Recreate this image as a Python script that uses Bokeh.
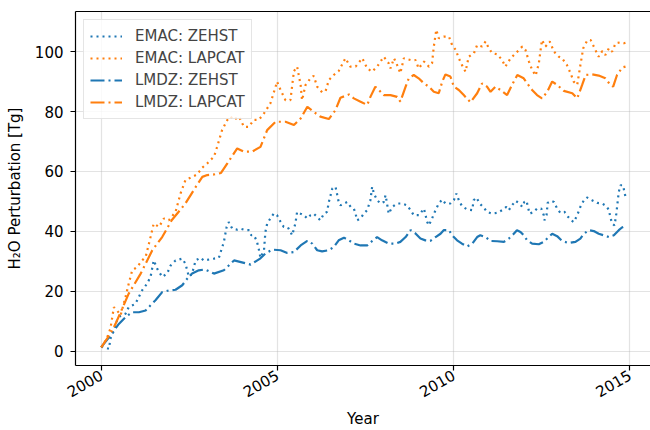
import math
from bokeh.plotting import figure
from bokeh.models import Range1d, FixedTicker, LinearAxis, Legend, LegendItem
from bokeh.embed import file_html
from bokeh.resources import INLINE

# ---------------- data ----------------
emac_zehst_year = [2000.0, 2000.22, 2000.26, 2000.36, 2000.45, 2000.55, 2000.69, 2000.78, 2000.97,
                   2001.16, 2001.30, 2001.40, 2001.49, 2001.59, 2001.73, 2001.87, 2001.97, 2002.11,
                   2002.30, 2002.39, 2002.49, 2002.58, 2002.68, 2002.82, 2002.91, 2003.01, 2003.20,
                   2003.34, 2003.39, 2003.48, 2003.56, 2003.62, 2003.72, 2003.86, 2003.95, 2004.10,
                   2004.19, 2004.26, 2004.33, 2004.41, 2004.47, 2004.52, 2004.62, 2004.66, 2004.71,
                   2004.80, 2004.90, 2004.99, 2005.09, 2005.18, 2005.30, 2005.37, 2005.42, 2005.47,
                   2005.51, 2005.56, 2005.66, 2005.75, 2005.85, 2005.94, 2006.03, 2006.13, 2006.22,
                   2006.32, 2006.41, 2006.46, 2006.56, 2006.65, 2006.70, 2006.74, 2006.79, 2006.89,
                   2006.98, 2007.08, 2007.17, 2007.22, 2007.26, 2007.36, 2007.45, 2007.55, 2007.64,
                   2007.69, 2007.74, 2007.83, 2007.93, 2008.02, 2008.07, 2008.12, 2008.16, 2008.26,
                   2008.40, 2008.54, 2008.68, 2008.78, 2008.87, 2009.02, 2009.16, 2009.25, 2009.30,
                   2009.39, 2009.49, 2009.58, 2009.68, 2009.77, 2009.91, 2010.01, 2010.08, 2010.15,
                   2010.24, 2010.39, 2010.53, 2010.57, 2010.65, 2010.74, 2010.86, 2010.95, 2011.09,
                   2011.24, 2011.38, 2011.50, 2011.57, 2011.66, 2011.76, 2011.85, 2011.95, 2012.01,
                   2012.07, 2012.11, 2012.16, 2012.28, 2012.37, 2012.49, 2012.56, 2012.58, 2012.64,
                   2012.67, 2012.77, 2012.85, 2012.94, 2013.03, 2013.15, 2013.24, 2013.34, 2013.41,
                   2013.51, 2013.60, 2013.70, 2013.79, 2013.93, 2014.08, 2014.22, 2014.34, 2014.41,
                   2014.45, 2014.50, 2014.57, 2014.62, 2014.69, 2014.74, 2014.81, 2014.88]
emac_zehst_val = [1.5, 0.8, 4.1, 6.9, 10.3, 11.9, 12.5, 14.7, 15.8,
                  20.3, 22.5, 24.8, 30.3, 27.5, 24.8, 25.9, 28.6, 30.3,
                  30.9, 29.2, 24.8, 25.9, 30.3, 31.2, 30.3, 30.5, 30.9,
                  31.2, 33.1, 36.4, 41.5, 43.1, 40.9, 40.6, 40.9, 40.4,
                  40.4, 38.7, 38.7, 37.0, 34.2, 31.2, 33.7, 39.8, 42.6,
                  44.3, 46.0, 45.4, 43.2, 41.5, 41.3, 39.8, 38.7, 40.9,
                  42.6, 46.5, 45.9, 45.4, 44.3, 45.4, 45.9, 44.8, 43.7,
                  45.9, 46.5, 49.8, 54.3, 54.9, 52.1, 49.8, 48.7, 49.3,
                  49.8, 48.2, 47.6, 45.9, 43.7, 44.3, 45.9, 47.1, 50.4,
                  54.9, 52.6, 50.4, 49.3, 49.8, 52.1, 48.7, 45.9, 48.2,
                  49.3, 49.3, 48.7, 47.1, 45.4, 45.4, 47.6, 43.2, 42.0,
                  44.3, 47.1, 49.3, 50.6, 49.3, 49.3, 50.4, 52.6, 50.4,
                  48.4, 47.3, 47.1, 50.4, 51.3, 49.3, 47.9, 46.5, 45.9,
                  46.2, 47.1, 48.2, 47.1, 48.7, 50.2, 49.5, 48.2, 49.8,
                  50.2, 48.2, 45.9, 46.5, 47.6, 47.6, 45.4, 43.7, 45.4,
                  49.5, 50.2, 49.8, 47.6, 46.2, 46.5, 45.0, 43.7, 43.1,
                  45.4, 48.2, 50.4, 51.3, 50.4, 49.5, 49.3, 48.4, 47.1,
                  44.8, 42.6, 42.0, 45.9, 53.2, 55.4, 55.4, 51.5]

emac_lapcat_year = [2000.0, 2000.15, 2000.26, 2000.36, 2000.45, 2000.55, 2000.69, 2000.78, 2000.88,
                    2001.02, 2001.16, 2001.26, 2001.40, 2001.49, 2001.64, 2001.78, 2001.92, 2002.11,
                    2002.25, 2002.39, 2002.55, 2002.72, 2002.87, 2003.01, 2003.10, 2003.20, 2003.29,
                    2003.43, 2003.58, 2003.67, 2003.76, 2003.91, 2004.05, 2004.19, 2004.33, 2004.47,
                    2004.60, 2004.80, 2004.95, 2004.99, 2005.09, 2005.23, 2005.37, 2005.47, 2005.56,
                    2005.66, 2005.70, 2005.80, 2005.94, 2006.03, 2006.13, 2006.27, 2006.37, 2006.46,
                    2006.60, 2006.74, 2006.93, 2007.07, 2007.22, 2007.41, 2007.55, 2007.69, 2007.83,
                    2008.02, 2008.16, 2008.21, 2008.31, 2008.40, 2008.49, 2008.59, 2008.78, 2008.92,
                    2009.01, 2009.16, 2009.30, 2009.39, 2009.44, 2009.51, 2009.58, 2009.72, 2009.87,
                    2009.96, 2010.06, 2010.15, 2010.24, 2010.34, 2010.43, 2010.58, 2010.67, 2010.81,
                    2010.91, 2011.00, 2011.10, 2011.24, 2011.38, 2011.47, 2011.62, 2011.81, 2011.95,
                    2012.04, 2012.14, 2012.23, 2012.33, 2012.42, 2012.51, 2012.61, 2012.73, 2012.85,
                    2012.99, 2013.08, 2013.22, 2013.32, 2013.41, 2013.51, 2013.60, 2013.68, 2013.79,
                    2013.89, 2013.98, 2014.12, 2014.22, 2014.31, 2014.41, 2014.50, 2014.60, 2014.74,
                    2014.83, 2014.90]
emac_lapcat_val = [1.3, 4.0, 7.5, 14.7, 13.6, 12.0, 18.1, 22.5, 27.0,
                   28.1, 30.3, 31.4, 38.1, 42.6, 41.5, 44.3, 43.7, 46.5,
                   52.6, 57.1, 58.0, 59.0, 61.3, 62.7, 63.8, 64.9, 68.2,
                   73.8, 77.2, 78.3, 77.2, 78.3, 74.9, 74.9, 77.2, 77.2,
                   79.0, 82.7, 88.3, 90.0, 87.2, 83.8, 83.8, 93.5, 95.0,
                   88.9, 83.8, 88.9, 91.1, 91.9, 88.3, 86.4, 86.9, 90.5,
                   92.2, 93.5, 97.8, 95.0, 95.0, 97.8, 94.4, 93.3, 95.0,
                   98.3, 96.1, 94.4, 97.8, 95.5, 92.8, 97.8, 97.2, 97.2,
                   94.4, 96.7, 95.0, 96.1, 101.7, 107.3, 104.5, 105.0, 105.0,
                   102.2, 100.6, 97.8, 95.5, 93.3, 98.3, 99.5, 102.2, 101.7,
                   103.4, 101.1, 99.5, 99.1, 97.2, 95.0, 97.8, 100.0, 101.7,
                   100.6, 96.7, 93.9, 92.0, 96.1, 103.9, 101.7, 103.4, 100.0,
                   98.3, 97.8, 95.5, 92.8, 90.0, 88.9, 95.5, 101.1, 103.6,
                   103.9, 101.7, 98.3, 100.2, 98.9, 101.1, 100.0, 102.8, 103.1,
                   102.8, 103.0]

lmdz_zehst_year = [2000.0, 2000.08, 2000.26, 2000.50, 2000.69, 2000.88, 2001.07, 2001.26, 2001.40,
                   2001.54, 2001.73, 2001.92, 2002.11, 2002.30, 2002.44, 2002.58, 2002.77, 2002.95,
                   2003.20, 2003.48, 2003.77, 2004.05, 2004.24, 2004.52, 2004.66, 2004.85, 2005.09,
                   2005.28, 2005.47, 2005.66, 2005.85, 2005.99, 2006.13, 2006.27, 2006.46, 2006.60,
                   2006.74, 2006.89, 2007.03, 2007.17, 2007.36, 2007.55, 2007.69, 2007.83, 2007.97,
                   2008.16, 2008.35, 2008.49, 2008.64, 2008.78, 2008.92, 2009.06, 2009.20, 2009.34,
                   2009.49, 2009.63, 2009.72, 2009.87, 2009.96, 2010.10, 2010.24, 2010.39, 2010.53,
                   2010.67, 2010.76, 2010.91, 2011.05, 2011.24, 2011.43, 2011.57, 2011.71, 2011.80,
                   2011.90, 2011.99, 2012.09, 2012.23, 2012.42, 2012.56, 2012.70, 2012.80, 2012.94,
                   2013.08, 2013.27, 2013.46, 2013.60, 2013.70, 2013.84, 2013.98, 2014.12, 2014.26,
                   2014.41, 2014.55, 2014.69, 2014.78, 2014.88]
lmdz_zehst_val = [1.3, 2.5, 5.2, 9.1, 11.4, 13.0, 13.0, 13.6, 15.3,
                  17.0, 19.7, 20.3, 20.5, 22.0, 24.2, 25.9, 27.0, 27.3,
                  25.9, 27.0, 30.3, 29.5, 28.9, 31.0, 32.6, 33.9, 33.7,
                  32.8, 33.1, 35.3, 36.8, 35.9, 33.7, 33.3, 33.7, 34.8,
                  37.0, 37.9, 37.0, 35.9, 35.3, 35.3, 36.8, 38.1, 37.0,
                  35.9, 35.9, 36.5, 38.1, 40.4, 39.3, 37.6, 37.0, 36.8,
                  38.1, 39.2, 40.4, 40.4, 38.7, 37.0, 35.9, 35.0, 35.9,
                  38.1, 38.7, 38.1, 36.8, 36.7, 36.5, 37.6, 39.2, 40.4,
                  39.8, 38.7, 37.0, 35.9, 35.7, 36.5, 38.1, 39.2, 38.4,
                  36.8, 36.1, 36.5, 37.6, 39.2, 40.4, 40.1, 39.2, 38.7,
                  38.1, 38.7, 40.4, 41.3, 41.8]

lmdz_lapcat_year = [2000.0, 2000.26, 2000.41, 2000.78, 2001.12, 2001.45, 2001.73, 2002.00, 2002.39,
                    2002.68, 2002.87, 2003.01, 2003.20, 2003.40, 2003.58, 2003.86, 2004.05, 2004.28,
                    2004.52, 2004.71, 2004.95, 2005.23, 2005.47, 2005.66, 2005.85, 2006.03, 2006.22,
                    2006.46, 2006.65, 2006.79, 2007.03, 2007.17, 2007.36, 2007.55, 2007.64, 2007.78,
                    2007.88, 2008.02, 2008.21, 2008.40, 2008.49, 2008.64, 2008.73, 2008.87, 2009.01,
                    2009.16, 2009.30, 2009.44, 2009.58, 2009.68, 2009.77, 2009.91, 2010.01, 2010.15,
                    2010.29, 2010.48, 2010.67, 2010.81, 2010.95, 2011.05, 2011.19, 2011.33, 2011.52,
                    2011.66, 2011.81, 2011.99, 2012.09, 2012.23, 2012.37, 2012.51, 2012.66, 2012.80,
                    2012.94, 2013.13, 2013.37, 2013.51, 2013.65, 2013.75, 2013.93, 2014.12, 2014.31,
                    2014.45, 2014.53, 2014.64, 2014.79, 2014.88]
lmdz_lapcat_val = [1.3, 5.8, 9.2, 19.2, 25.9, 33.7, 38.1, 43.7, 49.3,
                   54.8, 58.2, 58.8, 59.0, 59.5, 62.7, 67.7, 66.6, 66.6,
                   68.2, 73.8, 76.6, 76.6, 75.5, 77.7, 81.6, 79.9, 78.3,
                   77.5, 80.5, 84.6, 85.7, 84.4, 83.3, 82.2, 84.9, 88.3,
                   87.2, 85.5, 85.5, 84.9, 83.3, 88.3, 91.1, 92.2, 91.1,
                   89.4, 88.3, 86.6, 86.1, 90.0, 92.4, 91.7, 88.3, 87.2,
                   85.5, 83.1, 86.1, 89.4, 88.3, 86.6, 88.3, 87.2, 85.5,
                   88.9, 92.2, 91.1, 89.4, 87.2, 85.5, 84.4, 86.6, 90.0,
                   88.9, 86.9, 86.1, 84.4, 88.9, 92.2, 92.4, 92.0, 91.1,
                   88.9, 88.3, 92.2, 94.7, 95.0]

x_ticks = [2000, 2005, 2010, 2015]
y_ticks = [0, 20, 40, 60, 80, 100]

series = [
    ("EMAC: ZEHST", emac_zehst_year, emac_zehst_val, "#1f77b4", "2 4"),
    ("EMAC: LAPCAT", emac_lapcat_year, emac_lapcat_val, "#ff7f0e", "2 4"),
    ("LMDZ: ZEHST", lmdz_zehst_year, lmdz_zehst_val, "#1f77b4", "14 4 2 4"),
    ("LMDZ: LAPCAT", lmdz_lapcat_year, lmdz_lapcat_val, "#ff7f0e", "14 4 2 4"),
]

FONT = "DejaVu Sans"
FS = "15px"

p = figure(width=650, height=430, output_backend="svg", toolbar_location=None,
           title=None,
           x_range=Range1d(1999.27, 2015.59), y_range=Range1d(-4.78, 113.4),
           min_border_left=75, min_border_right=0, min_border_top=11, min_border_bottom=64)
p.background_fill_color = "white"
p.border_fill_color = "white"
p.outline_line_color = None

items = []
for label, xs, ys, color, dash in series:
    r = p.line(x=xs, y=ys, line_color=color, line_width=2.2, line_dash=dash, line_cap="butt")
    items.append(LegendItem(label=label, renderers=[r]))

# axes
p.xaxis.ticker = FixedTicker(ticks=x_ticks)
p.yaxis.ticker = FixedTicker(ticks=y_ticks)
p.xaxis.axis_label = "Year"
p.yaxis.axis_label = "H\u2082O Perturbation [Tg]"
p.xaxis.major_label_orientation = math.pi / 6
for ax in (p.xaxis[0], p.yaxis[0]):
    ax.axis_line_color = "black"
    ax.axis_line_width = 1.2
    ax.major_tick_line_color = "black"
    ax.major_tick_line_width = 1.2
    ax.major_tick_in = 0
    ax.major_tick_out = 5
    ax.minor_tick_in = 0
    ax.minor_tick_out = 0
    ax.major_label_text_font = FONT
    ax.major_label_text_font_size = FS
    ax.major_label_text_color = "black"
    ax.axis_label_text_font = FONT
    ax.axis_label_text_font_size = FS
    ax.axis_label_text_font_style = "normal"
    ax.axis_label_text_color = "black"
p.yaxis.major_label_standoff = 7
p.yaxis.axis_label_standoff = 8
p.xaxis.major_label_standoff = 3
p.xaxis.axis_label_standoff = 4

# top spine
top = LinearAxis(ticker=FixedTicker(ticks=[]), axis_line_color="black", axis_line_width=1.2,
                 major_tick_out=0, major_tick_in=0, minor_tick_out=0, minor_tick_in=0,
                 major_label_text_font_size="0px")
p.add_layout(top, "above")

p.grid.grid_line_color = "#b0b0b0"
p.grid.grid_line_alpha = 0.35
p.grid.grid_line_width = 1.2

legend = Legend(items=items, location="top_left", margin=8, padding=6, spacing=2,
                glyph_width=32, glyph_height=20, label_standoff=13,
                label_text_font=FONT, label_text_font_size=FS,
                border_line_color="#cccccc", border_line_width=1.2,
                background_fill_color="white", background_fill_alpha=0.8)
p.add_layout(legend)

open("out.html", "w").write(file_html(p, INLINE))
